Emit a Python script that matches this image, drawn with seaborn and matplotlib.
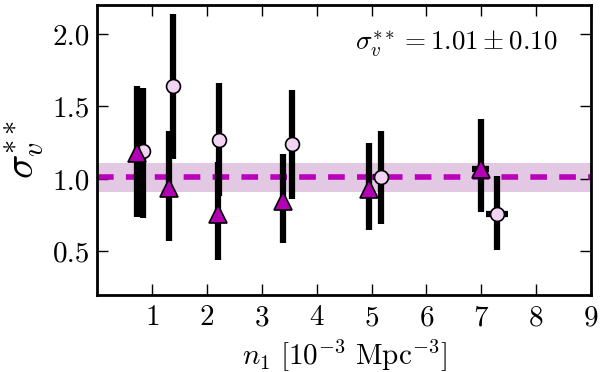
import numpy as np
import matplotlib
matplotlib.use("Agg")
import matplotlib.pyplot as plt
import seaborn as sns

# triangles (magenta)
tri_x = [0.73, 1.30, 2.20, 3.39, 4.96, 6.99]
tri_y = [1.18, 0.94, 0.76, 0.85, 0.93, 1.07]
tri_lo = [0.74, 0.575, 0.44, 0.555, 0.65, 0.77]
tri_hi = [1.64, 1.33, 1.12, 1.17, 1.25, 1.41]
tri_xerr = [0.0, 0.0, 0.0, 0.0, 0.0, 0.15]

# circles (light pink)
circ_x = [0.83, 1.39, 2.22, 3.55, 5.17, 7.28]
circ_y = [1.19, 1.64, 1.27, 1.24, 1.01, 0.76]
circ_lo = [0.73, 1.14, 0.885, 0.865, 0.69, 0.51]
circ_hi = [1.63, 2.14, 1.66, 1.61, 1.33, 1.02]
circ_xerr = [0.0, 0.0, 0.0, 0.0, 0.15, 0.2]

mean_val = 1.01
mean_err = 0.10

sns.set_style("ticks")
plt.rcParams['font.family'] = 'serif'
plt.rcParams['font.serif'] = ['cmr10', 'DejaVu Serif']
plt.rcParams['mathtext.fontset'] = 'cm'
plt.rcParams['axes.formatter.use_mathtext'] = True
for k in ['axes.edgecolor', 'xtick.color', 'ytick.color', 'text.color', 'axes.labelcolor']:
    plt.rcParams[k] = 'black'

fig = plt.figure(figsize=(6, 3.72), dpi=100)
ax = fig.add_axes([0.162, 0.207, 0.823, 0.78])

ax.axhspan(mean_val - mean_err, mean_val + mean_err, color='#e2c8e2', lw=0, zorder=0)
ax.axhline(mean_val, color='#bb00bb', ls=(0, (3, 2.2)), lw=4, zorder=1)

cy = np.array(circ_y)
ax.errorbar(circ_x, circ_y,
            yerr=[cy - np.array(circ_lo), np.array(circ_hi) - cy],
            xerr=circ_xerr, fmt='o', ms=10, mfc='#f3d3f3', mec='black', mew=1.2,
            ecolor='black', elinewidth=4.5, capsize=0, zorder=3)

ty = np.array(tri_y)
ax.errorbar(tri_x, tri_y,
            yerr=[ty - np.array(tri_lo), np.array(tri_hi) - ty],
            xerr=tri_xerr, fmt='^', ms=13, mfc='#b400b4', mec='black', mew=1.2,
            ecolor='black', elinewidth=4.5, capsize=0, zorder=4)

ax.text(0.728, 0.865, r'$\sigma_v^{**} = 1.01 \pm 0.10$', transform=ax.transAxes,
        ha='center', va='center', fontsize=19.5)

ax.set_xlim(0, 9)
ax.set_ylim(0.2, 2.2)
ax.set_xticks(range(1, 10))
ax.set_yticks([0.5, 1.0, 1.5, 2.0])
ax.set_yticklabels(['0.5', '1.0', '1.5', '2.0'])
ax.tick_params(direction='in', length=8, width=1, top=True, right=True, labelsize=21)
ax.tick_params(axis='x', pad=7)
ax.tick_params(axis='y', pad=5)
for s in ax.spines.values():
    s.set_linewidth(2)

ax.set_xlabel(r'$n_1\ [10^{-3}\ \mathrm{Mpc}^{-3}]$', fontsize=21, labelpad=4)
ax.set_ylabel(r'$\sigma_v^{**}$', fontsize=29, labelpad=4)

fig.savefig('out.png', dpi=100)
